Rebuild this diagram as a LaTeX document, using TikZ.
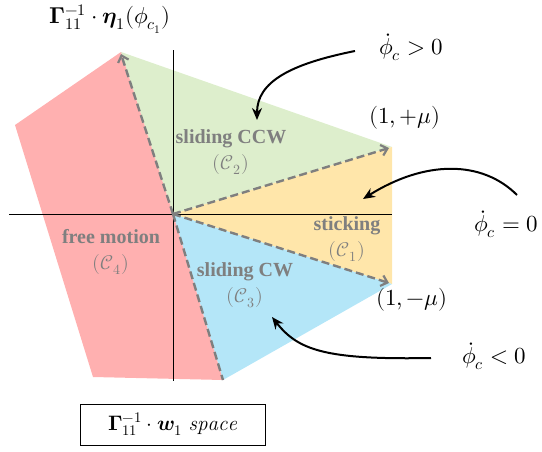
\documentclass[tikz,border=0pt]{standalone}
\usepackage{unicode-math}
\setmathfont{Latin Modern Math}
\newfontfamily\lblfont{Liberation Serif}
\usetikzlibrary{arrows.meta}
\definecolor{rgreen}{RGB}{221,238,204}
\definecolor{ryellow}{RGB}{255,230,170}
\definecolor{rblue}{RGB}{180,230,248}
\definecolor{rred}{RGB}{255,176,176}
\definecolor{lblgrey}{RGB}{127,127,127}
\tikzset{
  region/.style={draw=none},
  bound/.style={draw=lblgrey, line width=2.4pt, dash pattern=on 8pt off 4pt},
  boundarrow/.style={bound, -{Straight Barb[length=6pt,width=11pt,line width=2.2pt]}},
  axis/.style={draw=black, line width=0.9pt},
  rlabel/.style={text=lblgrey, font=\lblfont\bfseries\fontsize{20}{26}\selectfont, align=center, inner sep=0pt},
  mlabel/.style={font=\fontsize{23}{26}\selectfont, inner sep=0pt},
  pointer/.style={draw=black, line width=2pt, -{Stealth[length=12pt,width=10pt]}},
}
\begin{document}
\begin{tikzpicture}[x=1pt,y=-1pt]
\useasboundingbox (0,0) rectangle (542,451);
% key points
\coordinate (O) at (173,214);
\coordinate (top) at (121,52);
\coordinate (ru) at (392,147);
\coordinate (rd) at (392,284);
\coordinate (bot) at (223,380);
\coordinate (lu) at (15,125);
\coordinate (lb) at (93,377);
% regions
\fill[rgreen] (O) -- (top) -- (ru) -- cycle;
\fill[ryellow] (O) -- (ru) -- (rd) -- cycle;
\fill[rblue] (O) -- (rd) -- (bot) -- cycle;
\fill[rred] (O) -- (top) -- (lu) -- (lb) -- (bot) -- cycle;
% axes
\coordinate (xl) at (9,214);
\coordinate (xr) at (392,214);
\coordinate (yt) at (173,50);
\coordinate (yb) at (173,381);
\draw[axis] (xl) -- (xr);
\draw[axis] (yt) -- (yb);
% boundaries
\coordinate (topt) at (121,54);
\coordinate (rut) at (389,148);
\coordinate (rdt) at (389,283);
\draw[boundarrow] (O) -- (topt);
\draw[boundarrow] (O) -- (rut);
\draw[boundarrow] (O) -- (rdt);
\draw[bound] (O) -- (bot);
% region labels
\node[rlabel] (c2) at (231,152) {sliding CCW\\$(\mathcal{C}_2)$};
\node[rlabel] (c1) at (347,239) {sticking\\$(\mathcal{C}_1)$};
\node[rlabel] (c3) at (245,285) {sliding CW\\$(\mathcal{C}_3)$};
\node[rlabel] (c4) at (111,252) {free motion\\$(\mathcal{C}_4)$};
% math labels
\node[mlabel] (ylab) at (110,19) {$\symbf{\Gamma}_{11}^{-1}\cdot\symbfit{\eta}_1(\phi_{c_1})$};
\node[mlabel] (pmu) at (405,118) {$(1,+\mu)$};
\node[mlabel] (mmu) at (412,300) {$(1,-\mu)$};
\node[mlabel] (dpos) at (411,47) {$\dot{\phi}_c>0$};
\node[mlabel] (dzero) at (506,224) {$\dot{\phi}_c=0$};
\node[mlabel] (dneg) at (494,356) {$\dot{\phi}_c<0$};
% space box
\node[draw=black, line width=0.8pt, minimum width=185pt, minimum height=41pt, inner sep=0pt, font=\fontsize{21}{24}\selectfont] (space) at (172.5,424.5) {$\symbf{\Gamma}_{11}^{-1}\cdot\symbfit{w}_1\ \mathit{space}$};
% pointers
\coordinate (s1) at (355,51);
\coordinate (t1) at (257,120);
\coordinate (s2) at (517,195);
\coordinate (t2) at (363,199);
\coordinate (s3) at (431,358);
\coordinate (t3) at (272,317);
\draw[pointer] (s1) .. controls (290,64) and (257,82) .. (t1);
\draw[pointer] (s2) .. controls (482,160) and (425,160) .. (t2);
\draw[pointer] (s3) .. controls (325,360) and (298,350) .. (t3);
\end{tikzpicture}
\end{document}
